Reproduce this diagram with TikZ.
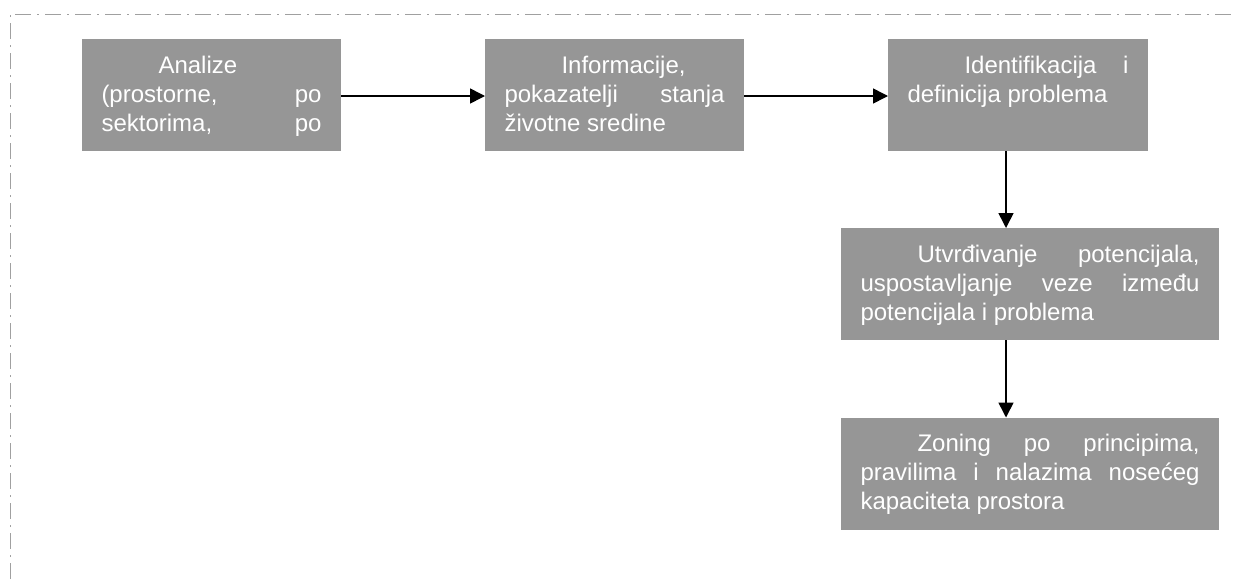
\documentclass[tikz,border=0pt]{standalone}
\usepackage{fontspec}
\setmainfont{Liberation Sans}
\usetikzlibrary{arrows.meta}
\definecolor{boxgray}{RGB}{150,150,150}
\definecolor{framegray}{RGB}{160,160,160}
\newcommand{\boxtext}[2]{\parbox[t][112pt][t]{#1}{\fontsize{24}{29}\selectfont\color{white}\rule{0pt}{34pt}#2}}
\tikzset{
  graybox/.style={fill=boxgray, draw=none, inner xsep=19.5pt, inner ysep=0pt, outer sep=0pt},
  arr/.style={line width=1.6pt, -{Triangle[length=15pt,width=15pt]}},
  frame/.style={draw=framegray, line width=1pt, dash pattern=on 16pt off 6pt on 2pt off 6pt}
}
\begin{document}
\begin{tikzpicture}[x=1pt,y=-1pt]
\useasboundingbox (0,0) rectangle (1234,579);
\coordinate (fc) at (10,14);
\coordinate (fr) at (1234,14);
\coordinate (fb) at (10,579);
\draw[frame] (fb) -- (fc) -- (fr);

\node[graybox] (b1) at (211.5,95) {\boxtext{220pt}{\hspace*{57pt}Analize\\(prostorne,\hfill po\\sektorima,\hfill po}};
\node[graybox] (b2) at (614.5,95) {\boxtext{220pt}{\hspace*{57pt}Informacije,\\pokazatelji\hfill stanja\\životne sredine}};
\node[graybox] (b3) at (1018,95) {\boxtext{221pt}{\hspace*{57pt}Identifikacija\hfill i\\definicija problema}};
\node[graybox] (b4) at (1030,284) {\boxtext{339pt}{\hspace*{57pt}Utvrđivanje\hfill potencijala,\\uspostavljanje\hfill veze\hfill između\\potencijala i problema}};
\node[graybox] (b5) at (1030,473.5) {\boxtext{339pt}{\hspace*{57pt}Zoning\hfill po\hfill principima,\\pravilima\hfill i\hfill nalazima\hfill nosećeg\\kapaciteta prostora}};

\draw[arr] (b1.east |- 0,96) -- (b2.west |- 0,96);
\draw[arr] (b2.east |- 0,96) -- (b3.west |- 0,96);
\draw[arr] ([xshift=-12pt]b3.south) -- ([xshift=-24pt]b4.north);
\draw[arr] ([xshift=-24pt]b4.south) -- ([xshift=-24pt]b5.north);
\end{tikzpicture}
\end{document}
